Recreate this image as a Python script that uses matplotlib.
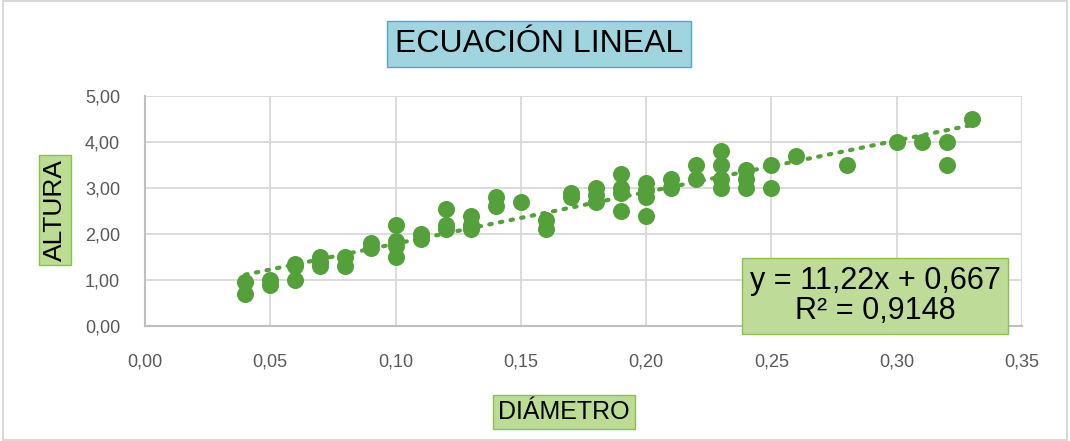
import matplotlib.pyplot as plt
import numpy as np
from matplotlib.patches import Rectangle
from matplotlib.ticker import FuncFormatter, MultipleLocator

diametro = [
    0.04, 0.04,
    0.05, 0.05,
    0.06, 0.06, 0.06,
    0.07, 0.07, 0.07,
    0.08, 0.08,
    0.09, 0.09,
    0.10, 0.10, 0.10, 0.10,
    0.11, 0.11,
    0.12, 0.12, 0.12,
    0.13, 0.13, 0.13,
    0.14, 0.14,
    0.15,
    0.16, 0.16,
    0.17, 0.17,
    0.18, 0.18, 0.18,
    0.19, 0.19, 0.19, 0.19,
    0.20, 0.20, 0.20, 0.20,
    0.21, 0.21,
    0.22, 0.22,
    0.23, 0.23, 0.23, 0.23,
    0.24, 0.24, 0.24,
    0.25, 0.25,
    0.26,
    0.28,
    0.30,
    0.31,
    0.32, 0.32,
    0.33,
]
altura = [
    0.95, 0.70,
    1.00, 0.90,
    1.35, 1.30, 1.00,
    1.50, 1.40, 1.30,
    1.50, 1.30,
    1.80, 1.70,
    2.20, 1.85, 1.75, 1.50,
    2.00, 1.90,
    2.55, 2.20, 2.10,
    2.40, 2.20, 2.10,
    2.80, 2.60,
    2.70,
    2.30, 2.10,
    2.90, 2.80,
    3.00, 2.85, 2.70,
    3.30, 3.00, 2.90, 2.50,
    3.10, 2.95, 2.80, 2.40,
    3.20, 3.00,
    3.50, 3.20,
    3.80, 3.50, 3.20, 3.00,
    3.40, 3.20, 3.00,
    3.50, 3.00,
    3.70,
    3.50,
    4.00,
    4.00,
    4.00, 3.50,
    4.50,
]

# trendline from the chart label
pendiente = 11.22
intercepto = 0.667
r2 = 0.9148

verde = "#54A03A"
fuente = ["Liberation Sans", "DejaVu Sans"]

fig = plt.figure(figsize=(10.70, 4.41), dpi=100)
ax = fig.add_axes([145 / 1070, 1 - 326 / 441, 877 / 1070, 230 / 441])

# outer chart border
fig.patches.append(Rectangle((0.003, 0.003), 0.994, 0.994, transform=fig.transFigure,
                             fill=False, edgecolor="#d9d9d9", linewidth=1.5))

xs = np.array([min(diametro), max(diametro)])
ax.plot(xs, pendiente * xs + intercepto, color=verde, linewidth=3,
        linestyle=(0, (0.6, 2.0)), dash_capstyle="round", zorder=2)
ax.scatter(diametro, altura, s=150, color=verde, linewidths=0, zorder=3)

ax.set_xlim(0, 0.35)
ax.set_ylim(0, 5)
ax.xaxis.set_major_locator(MultipleLocator(0.05))
ax.yaxis.set_major_locator(MultipleLocator(1))
ax.xaxis.set_major_formatter(FuncFormatter(lambda v, p: f"{v:.2f}".replace(".", ",")))
ax.yaxis.set_major_formatter(FuncFormatter(lambda v, p: f"{v:.2f}".replace(".", ",")))
ax.grid(True, color="#d9d9d9", linewidth=1.3)
ax.set_axisbelow(True)
for s in ["top", "right"]:
    ax.spines[s].set_visible(False)
for s in ["left", "bottom"]:
    ax.spines[s].set_color("#bfbfbf")
    ax.spines[s].set_linewidth(1.5)
ax.tick_params(length=0, labelsize=13, labelcolor="#595959")
for lab in ax.get_xticklabels() + ax.get_yticklabels():
    lab.set_family(fuente)
ax.tick_params(axis="x", pad=20)
ax.tick_params(axis="y", pad=18)

fig.text(539 / 1070, 1 - 44 / 441, "ECUACIÓN LINEAL", family=fuente, fontsize=23,
         ha="center", va="center",
         bbox=dict(boxstyle="square,pad=0.25", facecolor="#a0d5df", edgecolor="#4bacc6"))
fig.text(55 / 1070, 1 - 210 / 441, "ALTURA", family=fuente, fontsize=19, rotation=90,
         ha="center", va="center",
         bbox=dict(boxstyle="square,pad=0.15", facecolor="#bcdc94", edgecolor="#8dbf4e"))
fig.text(564 / 1070, 1 - 412 / 441, "DIÁMETRO", family=fuente, fontsize=18,
         ha="center", va="center",
         bbox=dict(boxstyle="square,pad=0.2", facecolor="#bcdc94", edgecolor="#8dbf4e"))

eq = f"y = {pendiente:.2f}x + {intercepto:.3f}\nR² = {r2:.4f}".replace(".", ",")
fig.text(875 / 1070, 1 - 296 / 441, eq, family=fuente,
         fontsize=22, ha="center", va="center", linespacing=1.0, zorder=10,
         bbox=dict(boxstyle="square,pad=0.25", facecolor="#bedc98", edgecolor="#8dbf4e"))

fig.savefig("out.png", dpi=100)
